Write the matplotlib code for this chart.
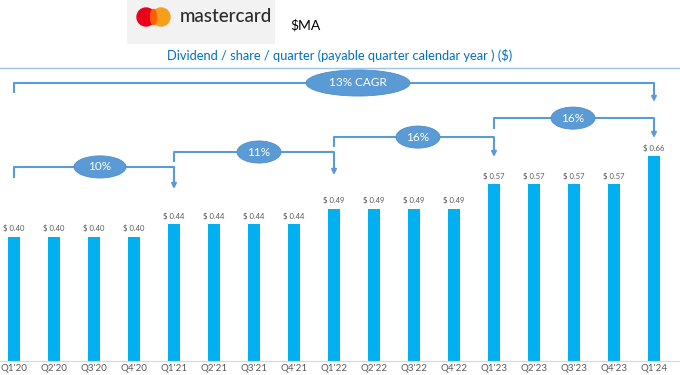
import matplotlib.pyplot as plt
from matplotlib.patches import Ellipse, Rectangle, Circle
import numpy as np

quarters = ["Q1'20", "Q2'20", "Q3'20", "Q4'20", "Q1'21", "Q2'21", "Q3'21", "Q4'21",
            "Q1'22", "Q2'22", "Q3'22", "Q4'22", "Q1'23", "Q2'23", "Q3'23", "Q4'23", "Q1'24"]
dividends = [0.40, 0.40, 0.40, 0.40, 0.44, 0.44, 0.44, 0.44,
             0.49, 0.49, 0.49, 0.49, 0.57, 0.57, 0.57, 0.57, 0.66]

# growth brackets: start bar, end bar, label
bracket_start = [0, 4, 8, 12, 0]
bracket_end = [4, 8, 12, 16, 16]
bracket_labels = ["10%", "11%", "16%", "16%", "13% CAGR"]

BAR = '#00B0F0'
LINE = '#5B9BD5'
GREY = '#595959'

plt.rcParams['font.family'] = ['Lato', 'DejaVu Sans']

fig = plt.figure(figsize=(6.8, 3.75), dpi=100)
fig.patch.set_facecolor('white')

# main axes: baseline at 361 px from top, 311 px per $1
ax = fig.add_axes([0, 14 / 375, 1, 361 / 375])
ax.patch.set_alpha(0)
x = np.arange(len(quarters))
ax.bar(x, dividends, width=0.31, color=BAR, zorder=2)
ax.set_xlim(-0.35, 16.65)
ax.set_ylim(0, 361 / 311)
for s in ['top', 'right', 'left']:
    ax.spines[s].set_visible(False)
ax.spines['bottom'].set_color('#d9d9d9')
ax.set_yticks([])
ax.set_xticks(x)
ax.set_xticklabels(quarters, fontsize=7, color=GREY)
ax.tick_params(axis='x', length=0, pad=2)

for xi, v in zip(x, dividends):
    ax.annotate(f"$ {v:.2f}", (xi, v), xytext=(0, 3), textcoords='offset points',
                ha='center', va='bottom', fontsize=5.5, color=GREY)

# bracket geometry (value units): horizontal, left leg bottom, arrow tip, ellipse x, ellipse w, ellipse h
levels = [0.624, 0.672, 0.720, 0.781, 0.894]
left_bottom = [0.588, 0.640, 0.688, 0.746, 0.862]
tips = [0.553, 0.598, 0.656, 0.717, 0.833]
ell_x = [2.15, 6.125, 10.1, 13.975, 8.6]
ell_w = [1.3, 1.1, 1.1, 1.1, 2.6]
ell_h = [0.071, 0.071, 0.071, 0.071, 0.084]

for s, e, lab, h, lb, t, ex, ew, eh in zip(bracket_start, bracket_end, bracket_labels,
                                           levels, left_bottom, tips, ell_x, ell_w, ell_h):
    ax.plot([s, s, e], [lb, h, h], color=LINE, lw=1.5, zorder=3, solid_capstyle='butt')
    ax.annotate('', xy=(e, t), xytext=(e, h),
                arrowprops=dict(arrowstyle='-|>', color=LINE, lw=1.5,
                                mutation_scale=7, shrinkA=0, shrinkB=0), zorder=3)
    ax.add_patch(Ellipse((ex, h), ew, eh, facecolor=LINE, edgecolor='#4F8CC9',
                         lw=0.6, zorder=4))
    ax.text(ex, h, lab, ha='center', va='center', color='white', fontsize=8.5, zorder=5)

# header: logo box, ticker, title, rule
hdr = fig.add_axes([0, 0, 1, 1])
hdr.set_xlim(0, 680)
hdr.set_ylim(375, 0)
hdr.axis('off')
hdr.add_patch(Rectangle((127, 0), 148, 44, facecolor='#f2f2f2', edgecolor='none', zorder=1))
hdr.add_patch(Circle((146, 17), 9, color='#EB001B', zorder=2))
hdr.add_patch(Circle((161, 17), 9, color='#F79E1B', zorder=2))
hdr.add_patch(Ellipse((153.5, 17), 6, 15, color='#FF5F00', zorder=3))
hdr.text(180, 16, 'mastercard', fontsize=13.5, color='#2b2b2b', va='center', ha='left',
         weight='medium', zorder=4)
hdr.text(290, 25, '$MA', fontsize=10, color='black', va='center', ha='left')
hdr.text(340, 56, 'Dividend / share / quarter (payable quarter calendar year ) ($)',
         fontsize=9.3, color='#0070C0', ha='center', va='center')
hdr.plot([0, 680], [68, 68], color='#9DC3E6', lw=1)

fig.savefig('out.png', dpi=100)
